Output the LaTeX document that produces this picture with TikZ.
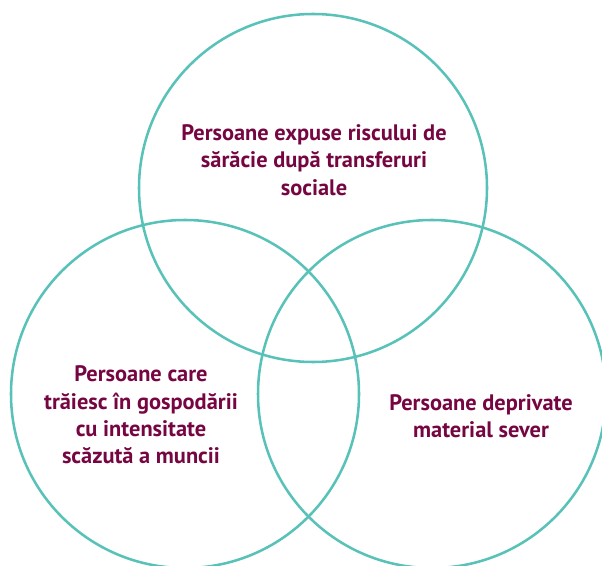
\documentclass[tikz,border=0pt]{standalone}
\usepackage{fontspec}
\setmainfont{PT Sans}
\definecolor{vennteal}{RGB}{88,194,184}
\definecolor{vennplum}{RGB}{118,6,66}

\tikzset{every picture/.style={line width=0.75pt}}
\tikzset{
  venn/.style={draw=vennteal, line width=1.9pt, circle, minimum size=261pt, inner sep=0pt},
  lbl/.style={text=vennplum, align=center, inner sep=0pt, font=\fontsize{16.8}{20.4}\selectfont\bfseries}
}

\begin{document}
\begin{tikzpicture}[x=0.75pt,y=0.75pt,yscale=-1,xscale=1]
\useasboundingbox (0,0) rectangle (602,566);

%Shape: Circle [id:top]
\node [venn] (poverty) at (313,188) {};
%Shape: Circle [id:left]
\node [venn] (lowwork) at (185,394) {};
%Shape: Circle [id:right]
\node [venn] (deprived) at (432,394) {};

% Text Node
\node [lbl] (povertytxt) at (314,160) {Persoane expuse riscului de\\ sărăcie după transferuri\\ sociale};
% Text Node
\node [lbl] (lowworktxt) at (141,415) {Persoane care\\ trăiesc în gospodării\\ cu intensitate\\ scăzută a muncii};
% Text Node
\node [lbl] (deprivedtxt) at (481,416) {Persoane deprivate\\ material sever};

\end{tikzpicture}
\end{document}
